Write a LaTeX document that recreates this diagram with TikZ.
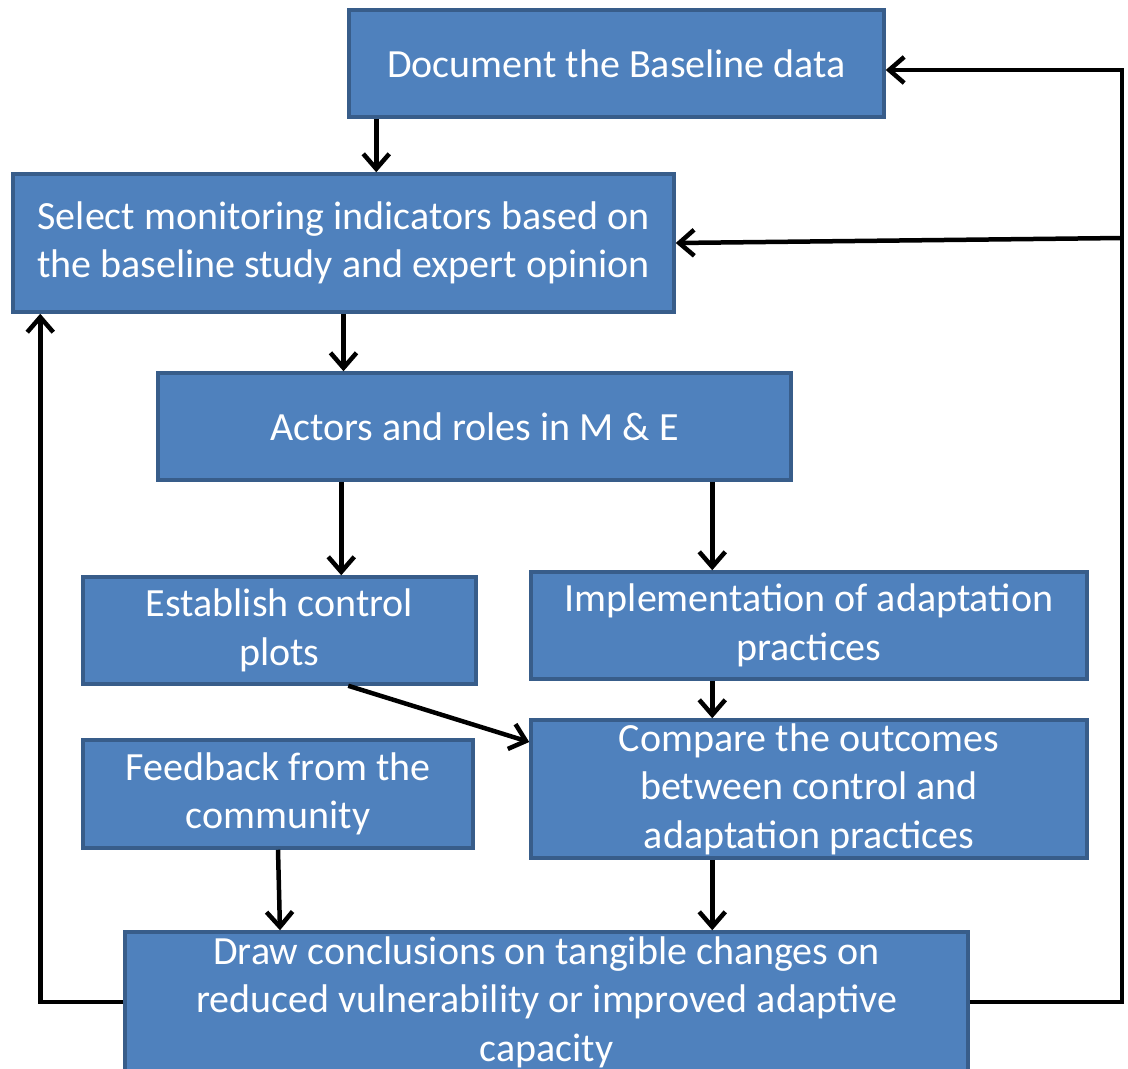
\documentclass[tikz,border=0pt]{standalone}
\usepackage{fontspec}
\setmainfont{Carlito}
\usepackage{xcolor}
\usepackage{tikz}
\usetikzlibrary{arrows.meta}
\usetikzlibrary{calc}

\definecolor{boxfill}{HTML}{4F81BD}
\definecolor{boxedge}{HTML}{385D8A}

\begin{document}
\begin{tikzpicture}[x=1pt,y=-1pt,
  stage/.style={draw=boxedge,fill=boxfill,line width=3.5pt,text=white,align=center,inner sep=0pt,
    font=\fontsize{40}{48.5}\selectfont},
  flow/.style={line width=4.5pt,-{Straight Barb[length=15pt,width=26pt]}}]
\useasboundingbox (0,0) rectangle (1128,1069);
\clip (0,0) rectangle (1128,1069);
% boxes
\node[stage,minimum width=535pt,minimum height=107pt] (base) at (616.5,63.5) {Document the Baseline data};
\node[stage,minimum width=661pt,minimum height=138pt] (select) at (343.5,243) {Select monitoring indicators based on\\the baseline study and expert opinion};
\node[stage,minimum width=633pt,minimum height=107pt] (actors) at (474.5,426.5) {Actors and roles in M \& E};
\node[stage,minimum width=393pt,minimum height=107pt] (control) at (279.5,630.5) {Establish control\\plots};
\node[stage,minimum width=556pt,minimum height=107pt] (implement) at (809,625.5) {Implementation of adaptation\\practices};
\node[stage,minimum width=390pt,minimum height=108pt] (feedback) at (278,794) {Feedback from the\\community};
\node[stage,minimum width=556pt,minimum height=138pt] (compare) at (809,789) {Compare the outcomes\\between control and\\adaptation practices};
\node[stage,minimum width=843pt,minimum height=140pt] (conclude) at (546.5,1002) {Draw conclusions on tangible changes on\\reduced vulnerability or improved adaptive\\capacity};
% loop corners
\coordinate (rtop) at (1122,70);
\coordinate (rmid) at (1122,238);
% arrows down the chain
\draw[flow] ([xshift=29pt]base.south west) -- ([xshift=29pt]base.south west |- select.north);
\draw[flow] (select.south) -- (select.south |- actors.north);
\draw[flow] ([xshift=185pt]actors.south west) -- ([xshift=185pt]actors.south west |- control.north);
\draw[flow] ([xshift=556pt]actors.south west) -- ([xshift=556pt]actors.south west |- implement.north);
\draw[flow] ([xshift=267pt]control.south west) -- ([yshift=47pt]compare.west); % diagonal
\draw[flow] ([xshift=183pt]implement.south west) -- ([xshift=183pt]implement.south west |- compare.north);
\draw[flow] (feedback.south) -- ([xshift=2pt]feedback.south |- conclude.north);
\draw[flow] ([xshift=183pt]compare.south west) -- ([xshift=183pt]compare.south west |- conclude.north);
% feedback loops
\draw[flow] (conclude.west) -| ([xshift=29pt]select.south west);
\draw[flow] (conclude.east) -| (rtop) -- ([yshift=-6.5pt]base.east);
\draw[flow] (rmid) -- (select.east);
\end{tikzpicture}
\end{document}
